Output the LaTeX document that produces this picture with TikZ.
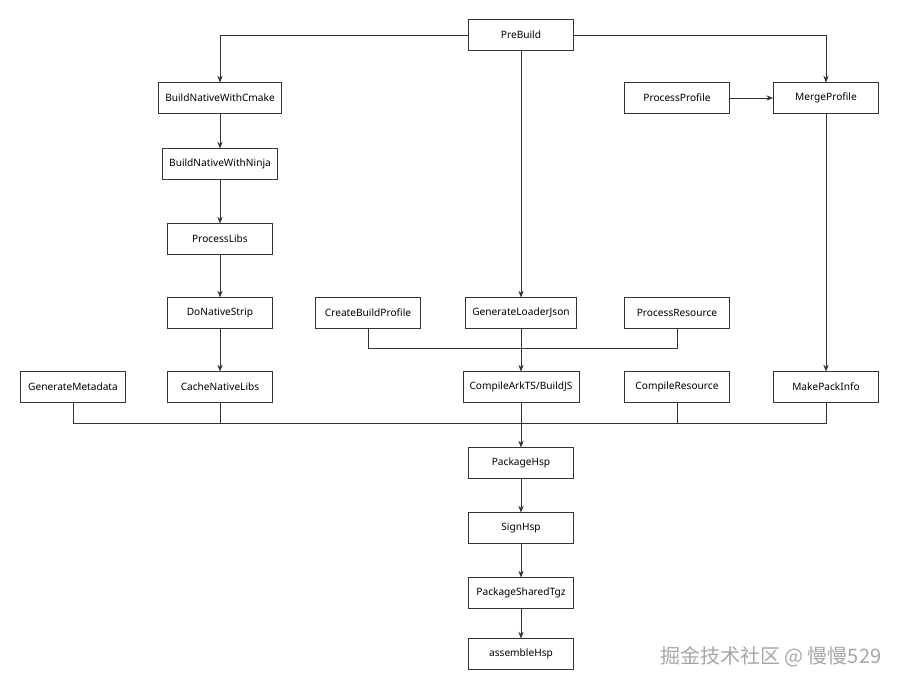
\documentclass[tikz,border=0pt]{standalone}
\usepackage{fontspec}
\setmainfont{Noto Sans}
\newfontfamily\cjk{Noto Sans CJK SC}
\usetikzlibrary{arrows.meta,positioning}

\begin{document}
\begin{tikzpicture}[
    x=0.75pt, y=-0.75pt,
    task/.style={rectangle, draw=black!80, fill=white, minimum width=79pt, minimum height=23pt, inner xsep=5pt, text centered, font=\fontsize{7.6}{9}\selectfont},
    arrow/.style={-{Stealth[length=5pt,width=4pt]}, semithick, draw=black!80},
    line/.style={semithick, draw=black!80}
]
\useasboundingbox (0,0) rectangle (904,692);

% Top
\node[task] (prebuild) at (521,35) {PreBuild};

% Native branch
\node[task] (cmake) at (220,98) {BuildNativeWithCmake};
\node[task] (ninja) at (220,164) {BuildNativeWithNinja};
\node[task] (libs) at (220,239) {ProcessLibs};
\node[task] (strip) at (220,313) {DoNativeStrip};
\node[task] (cache) at (220,387) {CacheNativeLibs};
\node[task] (meta) at (73,387) {GenerateMetadata};

% Middle branch
\node[task] (buildprofile) at (368,313) {CreateBuildProfile};
\node[task] (loader) at (521,313) {GenerateLoaderJson};
\node[task] (resource) at (677,313) {ProcessResource};
\node[task] (arkts) at (521,387) {CompileArkTS/BuildJS};
\node[task] (compres) at (677,387) {CompileResource};

% Profile branch
\node[task] (procprofile) at (677,98) {ProcessProfile};
\node[task] (merge) at (826,98) {MergeProfile};
\node[task] (packinfo) at (826,387) {MakePackInfo};

% Packaging
\node[task] (hsp) at (521,463) {PackageHsp};
\node[task] (sign) at (521,528) {SignHsp};
\node[task] (tgz) at (521,593) {PackageSharedTgz};
\node[task] (assemble) at (521,654) {assembleHsp};

\coordinate (join) at (521,348);
\coordinate (bus) at (521,423);

% Arrows
\draw[arrow] (prebuild.west) -| (cmake.north);
\draw[arrow] (prebuild.east) -| (merge.north);
\draw[arrow] (prebuild.south) -- (loader.north);
\draw[arrow] (cmake) -- (ninja);
\draw[arrow] (ninja) -- (libs);
\draw[arrow] (libs) -- (strip);
\draw[arrow] (strip) -- (cache);
\draw[arrow] (procprofile) -- (merge);
\draw[arrow] (merge) -- (packinfo);
\draw[arrow] (loader) -- (arkts);
\draw[line] (buildprofile.south) |- (join);
\draw[line] (resource.south) |- (join);
\draw[line] (meta.south) |- (bus);
\draw[line] (cache.south) |- (bus);
\draw[line] (compres.south) |- (bus);
\draw[line] (packinfo.south) |- (bus);
\draw[arrow] (arkts.south) -- (hsp.north);
\draw[arrow] (hsp) -- (sign);
\draw[arrow] (sign) -- (tgz);
\draw[arrow] (tgz) -- (assemble);

\node[font=\cjk\fontsize{15}{18}\selectfont, text=black!35, anchor=east] (mark) at (886,657) {掘金技术社区 @ 慢慢529};
\end{tikzpicture}
\end{document}
